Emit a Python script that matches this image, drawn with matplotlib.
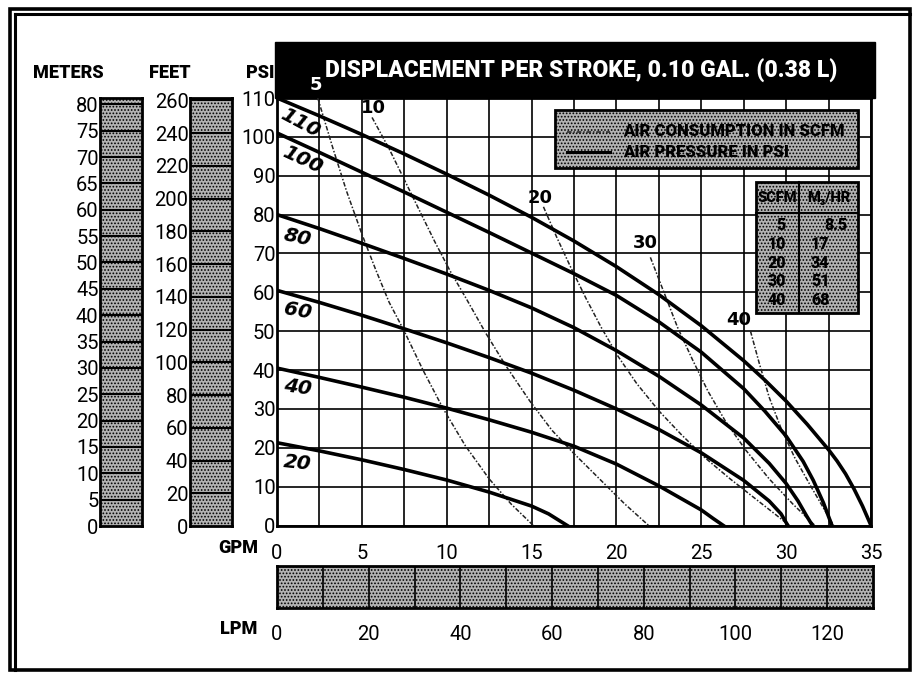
import matplotlib.pyplot as plt
from matplotlib.patches import Rectangle

# air pressure curves (solid), flow in GPM vs head in PSI
p110_gpm = [0, 2.5, 5, 7.5, 10, 12.5, 15, 17.5, 20, 22.5, 25, 27.5, 28.75, 30, 31.25, 32.5,
            33, 33.5, 34, 34.5, 35]
p110_psi = [110, 105.4, 100.6, 95.6, 90.4, 85, 79.3, 73.2, 66.6, 59.4, 51.4, 42.4, 37.4, 32, 26,
            19.5, 16.6, 13.3, 9.4, 5, 0]
p100_gpm = [0, 2.5, 5, 7.5, 10, 12.5, 15, 17.5, 20, 22.5, 25, 27.5, 28.75, 30, 31, 31.6, 32.2, 32.7]
p100_psi = [101, 96, 90.9, 85.8, 80.6, 75.4, 70.1, 64.8, 59.2, 52.4, 44.6, 35.2, 29.4, 23, 16.5,
            11.6, 5.8, 0]
p80_gpm = [0, 2.5, 5, 7.5, 10, 12.5, 15, 17.5, 20, 22.5, 25, 27.5, 29, 30, 30.7, 31.2, 31.55]
p80_psi = [80, 76.4, 72.6, 68.7, 64.7, 60.5, 56, 50.9, 45, 38.4, 31, 22.5, 16, 10.8, 6.3, 2.5, 0]
p60_gpm = [0, 2.5, 5, 7.5, 10, 12.5, 15, 17.5, 20, 22.5, 25, 27.5, 29, 29.7, 30.1]
p60_psi = [60.5, 57.4, 54.1, 50.6, 47, 43.2, 39.2, 34.8, 30, 24.7, 18.7, 11.6, 6.3, 3, 0]
p40_gpm = [0, 2.5, 5, 7.5, 10, 12.5, 15, 17.5, 20, 22.5, 25, 25.7, 26.3]
p40_psi = [40.5, 38.1, 35.6, 33, 30.2, 27.2, 24, 20.4, 15.8, 10.2, 4, 1.8, 0]
p20_gpm = [0, 2.5, 5, 7.5, 10, 12.5, 15, 16, 17.1]
p20_psi = [21.3, 19.2, 16.9, 14.4, 11.7, 8.6, 5, 3, 0]

# air consumption curves (dashed), SCFM
s5_gpm = [2.4, 3.3, 4.1, 5, 5.8, 6.6, 7.5, 8.6, 9.8, 11.1, 12.5, 13.8, 15.1]
s5_psi = [110, 97, 86, 75, 66, 57.5, 50, 40, 30, 20.5, 12, 5.5, 0]
s10_gpm = [5.6, 6.6, 7.5, 8.4, 9.3, 10.2, 11.2, 12.3, 13.5, 14.9, 16.2, 17.5, 19, 20.5, 21.9]
s10_psi = [105, 97, 89, 81, 73, 65.5, 58, 49.5, 41, 32, 24.5, 18.5, 12, 5.5, 0]
s20_gpm = [15.7, 16.5, 17.3, 18.2, 19.1, 20.1, 21.2, 22.5, 23.8, 25.2, 26.7, 28.3, 30.2]
s20_psi = [82, 74, 66.5, 58.5, 51, 43.5, 36.5, 29.5, 23.5, 17.5, 12, 6.5, 0]
s30_gpm = [22, 22.8, 23.6, 24.5, 25.4, 26.4, 27.6, 29, 30.4, 31.7]
s30_psi = [69, 60, 51, 42.5, 34.5, 27, 19.5, 12, 5.5, 0]
s40_gpm = [27.9, 28.4, 29, 29.7, 30.5, 31.4, 32.2, 32.8]
s40_psi = [50, 42, 33, 25, 17.5, 10.5, 4.5, 0]

pressure_curves = [(p110_gpm, p110_psi), (p100_gpm, p100_psi), (p80_gpm, p80_psi),
                   (p60_gpm, p60_psi), (p40_gpm, p40_psi), (p20_gpm, p20_psi)]
scfm_curves = [(s5_gpm, s5_psi), (s10_gpm, s10_psi), (s20_gpm, s20_psi),
               (s30_gpm, s30_psi), (s40_gpm, s40_psi)]

gpm_ticks = [0, 5, 10, 15, 20, 25, 30, 35]
psi_ticks = [0, 10, 20, 30, 40, 50, 60, 70, 80, 90, 100, 110]
meter_ticks = [0, 5, 10, 15, 20, 25, 30, 35, 40, 45, 50, 55, 60, 65, 70, 75, 80]
feet_ticks = [0, 20, 40, 60, 80, 100, 120, 140, 160, 180, 200, 220, 240, 260]
lpm_cells = [10, 20, 30, 40, 50, 60, 70, 80, 90, 100, 110, 120]
lpm_ticks = [0, 20, 40, 60, 80, 100, 120]

table_scfm = ['5', '10', '20', '30', '40']
table_m3hr = ['8.5', '17', '34', '51', '68']

W, H = 915, 675
plt.rcParams['hatch.linewidth'] = 0.8
NUM = ['Roboto', 'DejaVu Sans']
HEAD = ['Roboto', 'DejaVu Sans']
ITAL = ['DejaVu Sans']
STIPPLE = dict(facecolor='#b2b2b2', hatch='.....', edgecolor='black', lw=0)

fig = plt.figure(figsize=(W / 100, H / 100), dpi=100)


def px_axes(x0, y0, x1, y1, z=1):
    return fig.add_axes([x0 / W, 1 - y1 / H, (x1 - x0) / W, (y1 - y0) / H], zorder=z)


# background overlay in pixel coords
ov = fig.add_axes([0, 0, 1, 1], zorder=0)
ov.set_xlim(0, W)
ov.set_ylim(H, 0)
ov.axis('off')
ov.add_patch(Rectangle((10, 9), 900, 661, fill=False, lw=2.6, ec='black'))
ov.plot([15, 15], [14, 670], color='black', lw=2.2)
ov.plot([15, 910], [14, 14], color='black', lw=2.2)
ov.add_patch(Rectangle((275, 42), 600, 56, color='black'))
ov.text(581, 71, 'DISPLACEMENT PER STROKE, 0.10 GAL. (0.38 L)', color='white',
        fontsize=16.5, weight='heavy', family=HEAD, ha='center', va='center')
ov.text(68, 73, 'METERS', fontsize=13, weight='heavy', family=HEAD, ha='center', va='center')
ov.text(170, 73, 'FEET', fontsize=13, weight='heavy', family=HEAD, ha='center', va='center')
ov.text(260, 73, 'PSI', fontsize=13, weight='heavy', family=HEAD, ha='center', va='center')
ov.text(238, 548, 'GPM', fontsize=13, weight='heavy', family=HEAD, ha='center', va='center')
ov.text(239, 629, 'LPM', fontsize=13, weight='heavy', family=HEAD, ha='center', va='center')

# main chart
ax = px_axes(277, 98, 871, 525.5, z=2)
ax.set_xlim(0, 35)
ax.set_ylim(0, 110)
ax.set_xticks(gpm_ticks)
ax.set_xticks([g + 2.5 for g in gpm_ticks[:-1]], minor=True)
ax.set_yticks(psi_ticks)
ax.grid(True, which='both', color='black', lw=1.2)
ax.tick_params(which='both', length=0)
ax.tick_params(axis='x', pad=13, labelsize=14.5)
ax.tick_params(axis='y', pad=1, labelsize=14.5)
for lab in ax.get_xticklabels() + ax.get_yticklabels():
    lab.set_family(NUM)
for s in ax.spines.values():
    s.set_linewidth(2)

for g, p in scfm_curves:
    ax.plot(g, p, color='#222222', lw=1.1, ls=(0, (3, 1.2, 1, 1.2)), zorder=3)
for g, p in pressure_curves:
    ax.plot(g, p, color='black', lw=2.6, zorder=4, solid_joinstyle='round')

# curve labels
for txt, x, y, rot in [('110', 1.4, 103.5, -28), ('100', 1.5, 94, -25), ('80', 1.2, 74, -12),
                       ('60', 1.2, 55.3, -10), ('40', 1.2, 35.5, -8), ('20', 1.2, 16.2, -6)]:
    ax.text(x, y, txt, fontsize=14.5, weight='bold', style='italic', family=ITAL,
            rotation=rot, ha='center', va='center', zorder=6)
ax.text(2.3, 113.3, '5', color='white', fontsize=13, weight='bold', family=ITAL,
        ha='center', va='center')
for txt, x, y in [('10', 5.7, 107.4), ('20', 15.5, 84.3), ('30', 21.7, 72.6), ('40', 27.2, 52.8)]:
    ax.text(x, y, txt, fontsize=13, weight='bold', family=ITAL, ha='center', va='center',
            zorder=6)

# legend box
T = ov.transData
ax.add_patch(Rectangle((555, 110), 303, 58, transform=T, clip_on=False, zorder=7, **STIPPLE))
ax.add_patch(Rectangle((555, 110), 303, 58, transform=T, clip_on=False, zorder=7,
                       fill=False, lw=2, ec='black'))
ax.plot([567, 610], [132, 132], transform=T, color='#222222', lw=1.1,
        ls=(0, (3, 1.2, 1, 1.2)), clip_on=False, zorder=8)
ax.plot([567, 610], [152, 152], transform=T, color='black', lw=2.2, clip_on=False, zorder=8)
ax.text(623, 131, 'AIR CONSUMPTION IN SCFM', transform=T, fontsize=12, weight='heavy',
        family=HEAD, va='center', zorder=8)
ax.text(623, 152, 'AIR PRESSURE IN PSI', transform=T, fontsize=12, weight='heavy',
        family=HEAD, va='center', zorder=8)

# conversion table
ax.add_patch(Rectangle((756, 182), 102, 131, transform=T, clip_on=False, zorder=7, **STIPPLE))
ax.add_patch(Rectangle((756, 182), 102, 131, transform=T, clip_on=False, zorder=7,
                       fill=False, lw=2, ec='black'))
ax.plot([799, 799], [182, 313], transform=T, color='black', lw=1.5, clip_on=False, zorder=8)
ax.plot([756, 858], [213, 213], transform=T, color='black', lw=1.5, clip_on=False, zorder=8)
ax.text(777.5, 198, 'SCFM', transform=T, fontsize=10.5, weight='heavy', family=HEAD,
        ha='center', va='center', zorder=8)
ax.text(828.5, 198, 'M₃/HR', transform=T, fontsize=10.5, weight='heavy', family=HEAD,
        ha='center', va='center', zorder=8)
for i, (a, b) in enumerate(zip(table_scfm, table_m3hr)):
    y = 225 + i * 18.8
    ax.text(786, y, a, transform=T, fontsize=11.5, weight='heavy', family=HEAD,
            ha='right', va='center', zorder=8)
    ax.text(848 if i == 0 else 811, y, b, transform=T, fontsize=11.5, weight='heavy', family=HEAD,
            ha='right' if i == 0 else 'left', va='center', zorder=8)

# meters scale
mx = px_axes(100, 98, 142, 526)
mx.set_xlim(0, 1)
mx.set_ylim(0, 81.2)
mx.add_patch(Rectangle((0, 0), 1, 1, transform=mx.transAxes, **STIPPLE))
mx.hlines(meter_ticks[1:], 0, 1, color='black', lw=1.5)
mx.set_yticks(meter_ticks)
mx.set_xticks([])

# feet scale
fx = px_axes(190, 98, 232, 526)
fx.set_xlim(0, 1)
fx.set_ylim(0, 261.5)
fx.add_patch(Rectangle((0, 0), 1, 1, transform=fx.transAxes, **STIPPLE))
fx.hlines(feet_ticks[1:], 0, 1, color='black', lw=1.5)
fx.set_yticks(feet_ticks)
fx.set_xticks([])

# lpm scale
lx = px_axes(277, 566, 873, 608)
lx.set_xlim(0, 130)
lx.set_ylim(0, 1)
lx.add_patch(Rectangle((0, 0), 1, 1, transform=lx.transAxes, **STIPPLE))
lx.vlines(lpm_cells, 0, 1, color='black', lw=1.2)
lx.set_xticks(lpm_ticks)
lx.set_yticks([])

for a in (mx, fx, lx):
    a.tick_params(length=0, pad=1, labelsize=14.5)
    for s in a.spines.values():
        s.set_linewidth(2)
    for lab in a.get_xticklabels() + a.get_yticklabels():
        lab.set_family(NUM)
lx.tick_params(pad=12)

fig.savefig('out.png', dpi=100, facecolor='white')
